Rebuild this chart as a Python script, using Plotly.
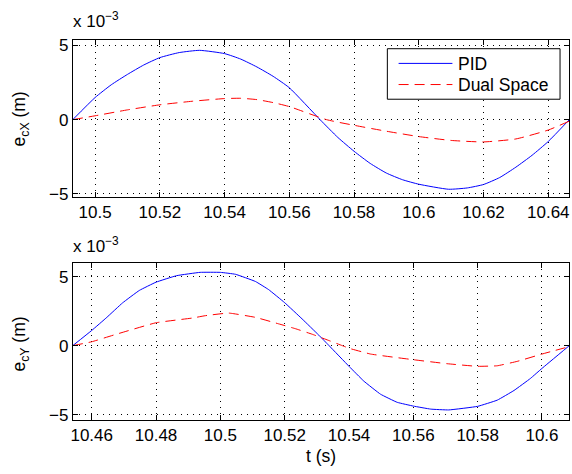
import plotly.graph_objects as go

# ---- data (values in units of 1e-3 m) ----
t1_pid = [10.4931, 10.5, 10.505, 10.51, 10.515, 10.52, 10.526, 10.5323, 10.54, 10.545, 10.55, 10.555, 10.56, 10.5695,
          10.575, 10.58, 10.585, 10.59, 10.595, 10.60, 10.6092, 10.615, 10.62, 10.625, 10.63, 10.635, 10.64, 10.6465]
e1_pid = [0.0, 1.49, 2.35, 3.05, 3.68, 4.18, 4.52, 4.67, 4.45, 4.08, 3.55, 2.92, 2.15, 0.0,
          -1.2, -2.13, -2.95, -3.6, -4.05, -4.35, -4.69, -4.6, -4.37, -3.9, -3.2, -2.4, -1.47, 0.0]
t1_ds = [10.4931, 10.5, 10.51, 10.52, 10.53, 10.54, 10.545, 10.55, 10.555, 10.56, 10.5715, 10.58, 10.59, 10.60, 10.61,
         10.62, 10.63, 10.64, 10.6465]
e1_ds = [0.0, 0.26, 0.66, 1.0, 1.24, 1.42, 1.44, 1.35, 1.15, 0.88, 0.0, -0.38, -0.78, -1.14, -1.4,
         -1.5, -1.3, -0.7, -0.1]

t2_pid = [10.4541, 10.46, 10.4647, 10.4696, 10.4748, 10.48, 10.4864, 10.4937, 10.50, 10.5047, 10.5109, 10.515, 10.52,
          10.5254, 10.5306, 10.5338, 10.54, 10.5446, 10.5498, 10.555, 10.56, 10.5654, 10.571, 10.58, 10.5861, 10.5913,
          10.5964, 10.60, 10.6085]
e2_pid = [0.0, 1.1, 2.05, 3.1, 4.0, 4.6, 5.07, 5.31, 5.31, 5.17, 4.65, 4.06, 3.11,
          1.94, 0.76, 0.0, -1.5, -2.57, -3.52, -4.11, -4.38, -4.6, -4.66, -4.4, -3.95, -3.25,
          -2.38, -1.65, 0.0]
t2_ds = [10.4541, 10.46, 10.4677, 10.48, 10.4913, 10.4953, 10.5026, 10.5109, 10.5181, 10.5233, 10.5285, 10.5342,
         10.5379, 10.54, 10.5467, 10.56, 10.5705, 10.58, 10.5861, 10.5923, 10.60, 10.6085]
e2_ds = [0.0, 0.28, 0.83, 1.66, 2.0, 2.17, 2.36, 2.05, 1.58, 1.23, 0.83, 0.33,
         0.0, -0.19, -0.61, -1.02, -1.31, -1.5, -1.46, -1.14, -0.61, -0.07]

x1_ticks = [10.50, 10.52, 10.54, 10.56, 10.58, 10.60, 10.62, 10.64]
x1_labels = ["10.5", "10.52", "10.54", "10.56", "10.58", "10.6", "10.62", "10.64"]
x2_ticks = [10.46, 10.48, 10.50, 10.52, 10.54, 10.56, 10.58, 10.60]
x2_labels = ["10.46", "10.48", "10.5", "10.52", "10.54", "10.56", "10.58", "10.6"]
y_ticks = [-5, 0, 5]
y_labels = ["\u22125", "0", "5"]
series_names = ["PID", "Dual Space"]

W, H = 572, 474
FONT = "Liberation Sans, Arial, Helvetica, sans-serif"
BLUE, RED = "#0000ff", "#ff0000"
DASH = "10px,6px"

fig = go.Figure()
fig.add_trace(go.Scatter(x=t1_pid, y=e1_pid, mode="lines", name=series_names[0], line=dict(color=BLUE, width=1, shape="spline", smoothing=0.5), xaxis="x", yaxis="y"))
fig.add_trace(go.Scatter(x=t1_ds, y=e1_ds, mode="lines", name=series_names[1], line=dict(color=RED, width=1, dash=DASH, shape="spline", smoothing=0.5), xaxis="x", yaxis="y"))
fig.add_trace(go.Scatter(x=t2_pid, y=e2_pid, mode="lines", name=series_names[0], line=dict(color=BLUE, width=1, shape="spline", smoothing=0.3), xaxis="x2", yaxis="y2"))
fig.add_trace(go.Scatter(x=t2_ds, y=e2_ds, mode="lines", name=series_names[1], line=dict(color=RED, width=1, dash=DASH, shape="spline", smoothing=0.3), xaxis="x2", yaxis="y2"))

def px(x):
    return x / W

def py(y):
    return (H - y) / H

xd = [px(71), px(569.3)]
y1d = [py(197.7), py(37.3)]
y2d = [py(426), py(266)]

common = dict(showline=True, linecolor="black", linewidth=1, mirror="allticks",
              ticks="inside", ticklen=5, tickcolor="black",
              showgrid=True, gridcolor="black", gridwidth=1, griddash="1px,5px",
              zeroline=False, tickfont=dict(family=FONT, size=17, color="black"))

fig.update_layout(
    width=W, height=H, margin=dict(l=0, r=0, t=0, b=0),
    paper_bgcolor="white", plot_bgcolor="white",
    font=dict(family=FONT, size=17, color="black"),
    showlegend=False,
    xaxis=dict(domain=xd, anchor="y", range=[10.4931, 10.6465], tickvals=x1_ticks, ticktext=x1_labels, **common),
    yaxis=dict(domain=y1d, anchor="x", range=[-5.18, 5.4], tickvals=y_ticks, ticktext=y_labels, **common),
    xaxis2=dict(domain=xd, anchor="y2", range=[10.4541, 10.6085], tickvals=x2_ticks, ticktext=x2_labels, **common),
    yaxis2=dict(domain=y2d, anchor="x2", range=[-5.39, 5.96], tickvals=y_ticks, ticktext=y_labels, **common),
)

# legend (drawn in paper coordinates)
shapes = [
    dict(type="rect", xref="paper", yref="paper", x0=px(386.7), x1=px(560), y0=py(98.3), y1=py(46.7),
         line=dict(color="black", width=1), fillcolor="white", layer="above"),
    dict(type="line", xref="paper", yref="paper", x0=px(398), x1=px(452), y0=py(61.7), y1=py(61.7),
         line=dict(color=BLUE, width=1), layer="above"),
    dict(type="line", xref="paper", yref="paper", x0=px(398), x1=px(452), y0=py(83.3), y1=py(83.3),
         line=dict(color=RED, width=1, dash=DASH), layer="above"),
]
fig.update_layout(shapes=shapes)

ann = []
ann.append(dict(text=series_names[0], x=px(456), y=py(62), xref="paper", yref="paper",
                xanchor="left", yanchor="middle", showarrow=False, font=dict(family=FONT, size=17.5)))
ann.append(dict(text=series_names[1], x=px(456), y=py(84), xref="paper", yref="paper",
                xanchor="left", yanchor="middle", showarrow=False, font=dict(family=FONT, size=17.5)))
ann.append(dict(text="x 10<sup>\u22123</sup>", x=px(69), y=py(31), xref="paper", yref="paper",
                xanchor="left", yanchor="bottom", showarrow=False, font=dict(family=FONT, size=17)))
ann.append(dict(text="x 10<sup>\u22123</sup>", x=px(69), y=py(260), xref="paper", yref="paper",
                xanchor="left", yanchor="bottom", showarrow=False, font=dict(family=FONT, size=17)))
ann.append(dict(text="e<sub>cX</sub> (m)", x=px(19), y=py(118), xref="paper", yref="paper",
                xanchor="center", yanchor="middle", textangle=-90, showarrow=False, font=dict(family=FONT, size=17.5)))
ann.append(dict(text="e<sub>cY</sub> (m)", x=px(19), y=py(348), xref="paper", yref="paper",
                xanchor="center", yanchor="middle", textangle=-90, showarrow=False, font=dict(family=FONT, size=17.5)))
ann.append(dict(text="t (s)", x=px(320), y=py(463), xref="paper", yref="paper",
                xanchor="center", yanchor="middle", showarrow=False, font=dict(family=FONT, size=17.5)))
fig.update_layout(annotations=ann)

fig.write_html("out.html", config={"displayModeBar": False},
               post_script="document.body.style.margin='0';document.body.style.overflow='hidden';")
